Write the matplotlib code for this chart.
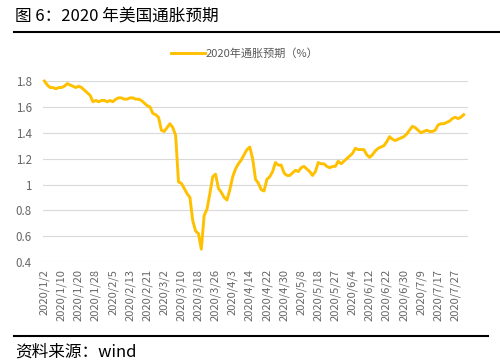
import numpy as np
import pandas as pd
import matplotlib
matplotlib.use("Agg")
import matplotlib.pyplot as plt
from matplotlib.lines import Line2D

plt.rcParams['font.family'] = ['Noto Sans CJK SC', 'DejaVu Sans']

# trading days used by the series (a few US holidays missing)
holidays = ["2020-04-10", "2020-05-25", "2020-07-03"]
dates = pd.bdate_range("2020-01-02", "2020-07-30")
dates = dates[~dates.isin(pd.to_datetime(holidays))]

inflation_exp = [
    1.80, 1.77, 1.75, 1.75, 1.74, 1.75, 1.75, 1.76, 1.78, 1.77,
    1.76, 1.75, 1.76, 1.75, 1.73, 1.71, 1.69, 1.64, 1.65, 1.64,
    1.65, 1.65, 1.64, 1.65, 1.64, 1.66, 1.67, 1.67, 1.66, 1.66,
    1.67, 1.67, 1.66, 1.66, 1.65, 1.63, 1.61, 1.60, 1.55, 1.54,
    1.52, 1.42, 1.41, 1.44, 1.47, 1.44, 1.38, 1.02, 1.01, 0.97,
    0.93, 0.90, 0.72, 0.64, 0.62, 0.50, 0.76, 0.81, 0.93, 1.06,
    1.08, 0.97, 0.94, 0.90, 0.88, 0.96, 1.06, 1.12, 1.16, 1.19,
    1.23, 1.27, 1.29, 1.20, 1.04, 1.01, 0.96, 0.95, 1.04, 1.06,
    1.10, 1.17, 1.15, 1.15, 1.09, 1.07, 1.07, 1.09, 1.11, 1.10,
    1.13, 1.14, 1.12, 1.10, 1.07, 1.10, 1.17, 1.16, 1.16, 1.14,
    1.13, 1.14, 1.14, 1.18, 1.16, 1.18, 1.20, 1.22, 1.24, 1.28,
    1.27, 1.27, 1.27, 1.23, 1.21, 1.23, 1.26, 1.28, 1.29, 1.30,
    1.33, 1.37, 1.35, 1.34, 1.35, 1.36, 1.37, 1.39, 1.42, 1.45,
    1.44, 1.42, 1.40, 1.41, 1.42, 1.41, 1.41, 1.42, 1.46, 1.47,
    1.47, 1.48, 1.49, 1.51, 1.52, 1.51, 1.52, 1.54,
]
y_ticks = [0.4, 0.6, 0.8, 1.0, 1.2, 1.4, 1.6, 1.8]
y_labels = ["0.4", "0.6", "0.8", "1", "1.2", "1.4", "1.6", "1.8"]

labels = [f"{d.year}/{d.month}/{d.day}" for d in dates]
x = np.arange(len(dates))

fig = plt.figure(figsize=(5, 3.64), dpi=100)
ax = fig.add_axes([0.086, 0.28, 0.85, 0.4973])

ax.plot(x, inflation_exp, color="#FFC000", linewidth=2.1, clip_on=False,
        solid_joinstyle="round")

ax.set_xlim(-0.5, len(x) + 0.5)
ax.set_ylim(0.4, 1.8)
ax.set_yticks(y_ticks)
ax.set_yticklabels(y_labels, fontsize=8.3, color="#666666")
ax.set_xticks(x[::6])
ax.set_xticklabels(labels[::6], rotation=90, fontsize=8, color="#666666")
ax.tick_params(axis="y", length=0, pad=8)
ax.tick_params(axis="x", length=0, pad=5)
ax.grid(axis="y", color="#d9d9d9", linewidth=0.8)
ax.set_axisbelow(True)
for s in ax.spines.values():
    s.set_visible(False)

handle = Line2D([0], [0], color="#FFC000", linewidth=2.1)
fig.legend([handle], ["2020年通胀预期（%）"], loc="center",
           bbox_to_anchor=(0.49, 0.852), frameon=False, fontsize=8,
           labelcolor="#595959", handlelength=3.0, handletextpad=0.1)

fig.text(0.03, 0.957, "图 6：2020 年美国通胀预期", fontsize=12, va="center")
fig.add_artist(Line2D([0.028, 1.0], [0.912, 0.912], color="black", linewidth=1.5))
fig.add_artist(Line2D([0.028, 0.975], [0.077, 0.077], color="black", linewidth=1.5))
fig.text(0.03, 0.033, "资料来源：wind", fontsize=12, va="center")

fig.savefig("out.png", dpi=100)
